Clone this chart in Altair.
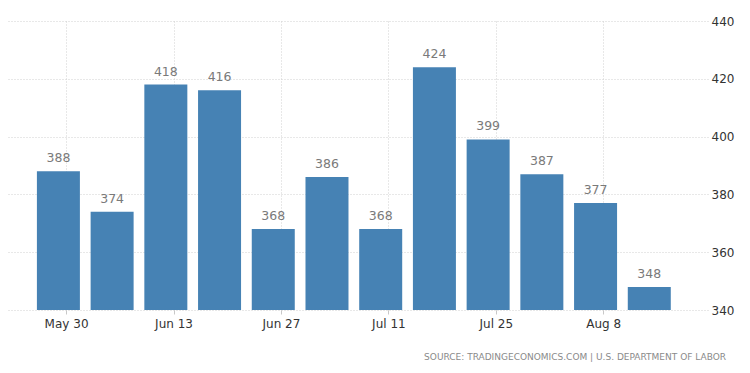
import altair as alt
import pandas as pd

week_ending = ["2021-05-29", "2021-06-05", "2021-06-12", "2021-06-19", "2021-06-26", "2021-07-03",
               "2021-07-10", "2021-07-17", "2021-07-24", "2021-07-31", "2021-08-07", "2021-08-14"]
claims = [388, 374, 418, 416, 368, 386, 368, 424, 399, 387, 377, 348]
tick_dates = [(2021, 5, 30), (2021, 6, 13), (2021, 6, 27), (2021, 7, 11), (2021, 7, 25), (2021, 8, 8)]
y_ticks = [340, 360, 380, 400, 420, 440]
source_text = "SOURCE: TRADINGECONOMICS.COM | U.S. DEPARTMENT OF LABOR"

df = pd.DataFrame({"date": week_ending, "value": claims})

font = "DejaVu Sans"

x = alt.X(
    "date:T",
    scale=alt.Scale(type="utc",
                    domain=[alt.DateTime(year=2021, month=5, date=23, hours=2, utc=True),
                            alt.DateTime(year=2021, month=8, date=21, utc=True)]),
    axis=alt.Axis(
        values=[alt.DateTime(year=y, month=m, date=d, utc=True) for (y, m, d) in tick_dates],
        labelExpr="utcFormat(datum.value, '%b ') + utcdate(datum.value)", title=None,
        grid=True, gridColor="#d0d0d0", gridDash=[1, 2], gridWidth=1,
        domain=False, ticks=True, tickColor="#c8c8c8", tickSize=4,
        labelFont=font, labelFontSize=12, labelColor="#333333", labelPadding=4,
    ),
)
y = alt.Y(
    "value:Q",
    scale=alt.Scale(domain=[340, 440], zero=False, nice=False),
    axis=alt.Axis(
        orient="right", values=y_ticks, title=None,
        grid=True, gridColor="#d0d0d0", gridDash=[1, 2], gridWidth=1,
        domain=False, ticks=False, labelPadding=3,
        labelFont=font, labelFontSize=12, labelColor="#333333",
    ),
)

base = alt.Chart(df)
bars = base.mark_bar(size=43, color="#4682b4").encode(x=x, y=y, y2=alt.datum(340))
labels = base.mark_text(baseline="alphabetic", dy=-9, font=font, fontSize=12.5, color="#7a7a7a").encode(
    x="date:T", y="value:Q", text="value:Q"
)
source = alt.Chart(pd.DataFrame({"t": [source_text]})).mark_text(
    align="right", baseline="middle", font=font, fontSize=9, color="#8a8a8a"
).encode(x=alt.value(718), y=alt.value(336), text="t:N")

chart = alt.layer(bars, labels, source).properties(
    width=700, height=289,
    autosize=alt.AutoSizeParams(type="none"),
    padding={"left": 0, "top": 13, "right": 34, "bottom": 56},
).configure_view(stroke=None)

chart.save("out.html", embed_options={"renderer": "svg", "actions": False})
